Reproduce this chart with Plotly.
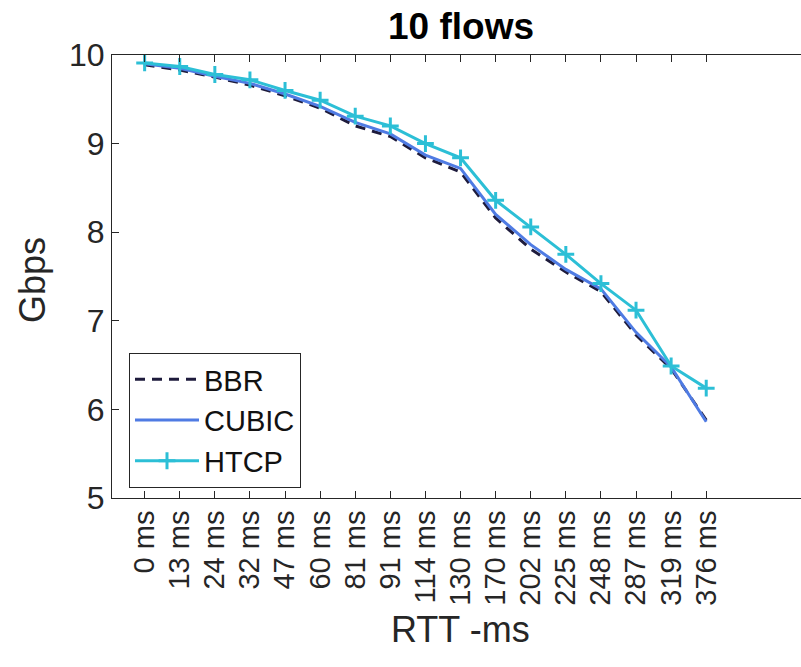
import plotly.graph_objects as go

rtt_labels = ["0 ms", "13 ms", "24 ms", "32 ms", "47 ms", "60 ms", "81 ms", "91 ms", "114 ms",
              "130 ms", "170 ms", "202 ms", "225 ms", "248 ms", "287 ms", "319 ms", "376 ms"]
bbr = [9.89, 9.83, 9.75, 9.66, 9.54, 9.40, 9.20, 9.08, 8.84, 8.68, 8.16, 7.81, 7.55, 7.33, 6.84, 6.46, 5.88]
cubic = [9.90, 9.85, 9.76, 9.68, 9.56, 9.42, 9.24, 9.11, 8.87, 8.72, 8.20, 7.86, 7.58, 7.36, 6.87, 6.48, 5.86]
htcp = [9.91, 9.87, 9.78, 9.72, 9.60, 9.49, 9.31, 9.20, 9.00, 8.84, 8.36, 8.06, 7.75, 7.42, 7.12, 6.49, 6.24]

x = list(range(len(rtt_labels)))
FONT = "Liberation Sans, Arial, sans-serif"
AX = "#262626"

fig = go.Figure()
fig.add_trace(go.Scatter(x=x, y=bbr, name="BBR", mode="lines",
                         line=dict(color="#1e1b3c", width=3, dash="10px,7px")))
fig.add_trace(go.Scatter(x=x, y=cubic, name="CUBIC", mode="lines",
                         line=dict(color="#4f7be3", width=3)))
fig.add_trace(go.Scatter(x=x, y=htcp, name="HTCP", mode="lines+markers",
                         line=dict(color="#2cbfd6", width=3),
                         marker=dict(symbol="cross-thin", size=12,
                                     line=dict(color="#2cbfd6", width=3))))

fig.update_layout(
    width=801, height=667,
    margin=dict(l=112, r=0, t=55, b=169),
    paper_bgcolor="white", plot_bgcolor="white",
    font=dict(family=FONT, color=AX),
    showlegend=True,
    legend=dict(x=(129 - 112) / 689, y=(498 - 353) / 443, xanchor="left", yanchor="top",
                bgcolor="white", bordercolor=AX, borderwidth=1,
                font=dict(size=29, color="#111111"), itemwidth=64,
                tracegroupgap=0),
    title=dict(text="<b>10 flows</b>", x=(461 - 112) / 689, xanchor="center",
               xref="paper", yref="container", y=1 - 26 / 667, yanchor="middle",
               font=dict(size=37, color="#000000", family=FONT)),
)
fig.update_xaxes(range=[-0.93, 18.7], tickmode="array", tickvals=x, ticktext=rtt_labels,
                 tickangle=-90, ticks="inside", ticklen=7, tickcolor=AX,
                 showline=True, linecolor=AX, linewidth=1, mirror="ticks",
                 showgrid=False, zeroline=False,
                 tickfont=dict(size=29, color=AX, family=FONT))
fig.update_yaxes(range=[5, 10], tickmode="array", tickvals=[5, 6, 7, 8, 9, 10],
                 ticks="inside", ticklen=7, tickcolor=AX,
                 showline=True, linecolor=AX, linewidth=1, mirror=False,
                 showgrid=False, zeroline=False,
                 tickfont=dict(size=32, color=AX, family=FONT))

fig.add_annotation(text="RTT -ms", xref="paper", yref="paper", x=(461 - 112) / 689,
                   y=(498 - 629) / 443, xanchor="center", yanchor="middle",
                   showarrow=False, font=dict(size=36, color=AX, family=FONT))
fig.add_annotation(text="Gbps", xref="paper", yref="paper", x=(32 - 112) / 689,
                   y=(498 - 280) / 443, xanchor="center", yanchor="middle", textangle=-90,
                   showarrow=False, font=dict(size=36, color=AX, family=FONT))

fig.write_html("out.html")
